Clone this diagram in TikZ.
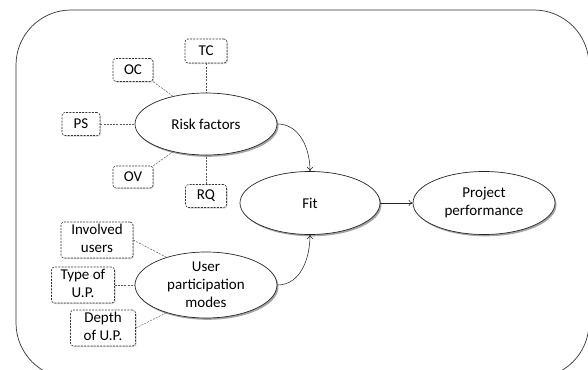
\documentclass[tikz,border=0pt]{standalone}
\usepackage{fontspec}
\setmainfont{Carlito}
\usetikzlibrary{shadows,arrows.meta,shapes.geometric}
\newcommand{\twol}[2]{\begin{tabular}{@{}c@{}}#1\\#2\end{tabular}}
\begin{document}
\begin{tikzpicture}[x=1pt,y=-1pt,
  every node/.style={font=\fontsize{15}{18}\selectfont},
  ell/.style={ellipse,draw=black!85,fill=white,line width=0.7pt,inner sep=0pt,
     drop shadow={shadow xshift=1.5pt,shadow yshift=-1.8pt,opacity=0.55,fill=black!65}},
  dbox/.style={draw=black!80,dash pattern=on 2pt off 1.2pt,fill=white,rounded corners=3pt,line width=0.6pt,
     inner sep=0pt,
     drop shadow={shadow xshift=1pt,shadow yshift=-1pt,opacity=0.35,fill=black!50}},
  dlink/.style={draw=black!65,dash pattern=on 2pt off 1.2pt,line width=0.5pt},
  arr/.style={draw=black!85,line width=0.55pt,-{To[length=4pt,width=6pt]}}]
\useasboundingbox (0,0) rectangle (588,369);
\begin{scope}
\clip (0,0) rectangle (588,369);
\draw[black!80,line width=0.7pt,rounded corners=55pt] (16,10) rectangle (589,378);
\end{scope}
% ellipses
\node[ell,minimum width=142pt,minimum height=62pt] (risk) at (206,124) {Risk factors};
\node[ell,minimum width=140pt,minimum height=63pt] (fit) at (310,203) {Fit};
\node[ell,minimum width=142pt,minimum height=63pt,align=center] (perf) at (484,203) {Project\\performance};
\node[ell,minimum width=142pt,minimum height=66pt,align=center] (user) at (206,285) {User\\participation\\modes};
% dashed boxes
\node[dbox,minimum width=42pt,minimum height=24pt] (tc) at (206,51) {TC};
\node[dbox,minimum width=40pt,minimum height=23pt] (oc) at (133,70) {OC};
\node[dbox,minimum width=38pt,minimum height=23pt] (ps) at (81,124) {PS};
\node[dbox,minimum width=40pt,minimum height=22pt] (ov) at (133,177) {OV};
\node[dbox,minimum width=41pt,minimum height=23pt] (rq) at (206,196) {RQ};
\node[dbox,minimum width=72pt,minimum height=35pt] (inv) at (97,240) {\twol{Involved}{users}};
\node[dbox,minimum width=63pt,minimum height=35pt] (type) at (83,285) {\twol{Type of}{U.P.}};
\node[dbox,minimum width=65pt,minimum height=34pt] (depth) at (103,328) {\twol{Depth}{of U.P.}};
% dashed links
\draw[dlink] (tc.south) -- (risk.north);
\draw[dlink] (oc.south east) -- (risk.140);
\draw[dlink] (ps.east) -- (risk.west);
\draw[dlink] (ov.north east) -- (risk.220);
\draw[dlink] (rq.north) -- (risk.south);
\draw[dlink] (inv.east) -- (user.145);
\draw[dlink] (type.east) -- (user.west);
\draw[dlink] (depth.east) -- (user.215);
% arrows
\draw[arr] (risk.east) to[out=0,in=90] (fit.north);
\draw[arr] (user.east) to[out=0,in=-90] (fit.south);
\draw[arr] (fit.east) -- (perf.west);
\end{tikzpicture}
\end{document}
